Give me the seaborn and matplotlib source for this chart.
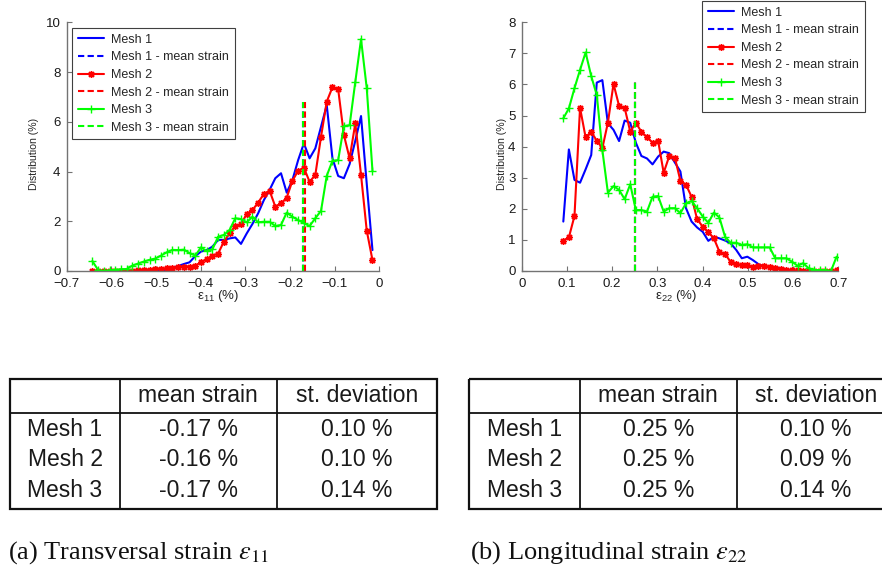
import numpy as np
import pandas as pd
import matplotlib
matplotlib.use("Agg")
import matplotlib.pyplot as plt
import seaborn as sns
from matplotlib.lines import Line2D
from matplotlib.patches import Rectangle

# ---------------- data ----------------
series_names = ["Mesh 1", "Mesh 2", "Mesh 3"]

# (a) transversal strain eps11 -- bin centres (%)
x11 = [-0.6425, -0.6297, -0.6169, -0.6041, -0.5913, -0.5785, -0.5657, -0.5529, -0.5401, -0.5273,
       -0.5145, -0.5017, -0.4889, -0.4761, -0.4633, -0.4505, -0.4377, -0.4249, -0.4121, -0.3993,
       -0.3865, -0.3737, -0.3609, -0.3481, -0.3353, -0.3225, -0.3097, -0.2969, -0.2841, -0.2713,
       -0.2585, -0.2457, -0.2329, -0.2201, -0.2073, -0.1945, -0.1817, -0.1689, -0.1561, -0.1433,
       -0.1305, -0.1177, -0.1049, -0.0921, -0.0793, -0.0665, -0.0537, -0.0409, -0.0281, -0.0153]
mesh1_e11 = [0, 0, 0, 0, 0, 0, 0, 0, 0, 0,
             0, 0, 0.01, 0.05, 0.12, 0.20, 0.28, 0.35, 0.60, 0.78,
             0.84, 0.98, 1.25, 1.25, 1.31, 1.35, 1.09, 1.51, 1.89, 2.32,
             2.85, 3.26, 3.73, 3.93, 3.15, 3.66, 4.46, 5.13, 4.53, 4.93,
             5.80, 6.67, 4.53, 3.82, 3.73, 4.30, 5.24, 6.23, 3.50, 0.84]
mesh2_e11 = [0, 0, 0, 0, 0, 0, 0, 0.02, 0.03, 0.05,
             0.05, 0.10, 0.08, 0.12, 0.14, 0.15, 0.18, 0.18, 0.22, 0.35,
             0.48, 0.62, 0.70, 1.18, 1.52, 1.80, 1.89, 2.29, 2.45, 2.75,
             3.10, 3.23, 2.59, 2.72, 2.95, 3.63, 4.03, 4.15, 3.59, 3.86,
             5.40, 6.81, 7.39, 7.31, 5.47, 4.53, 5.94, 3.86, 1.62, 0.44]
mesh3_e11 = [0.40, 0.04, 0.0, 0.03, 0.05, 0.07, 0.08, 0.22, 0.30, 0.38,
             0.45, 0.50, 0.62, 0.75, 0.85, 0.84, 0.86, 0.72, 0.62, 0.95,
             0.80, 0.87, 1.38, 1.45, 1.65, 2.12, 2.09, 1.96, 2.18, 1.96,
             1.98, 1.98, 1.81, 1.85, 2.35, 2.18, 2.05, 1.92, 1.81, 2.12,
             2.42, 3.83, 4.43, 4.46, 5.83, 5.86, 7.61, 9.32, 7.35, 4.03]
mean_e11 = [-0.170, -0.166, -0.170]
mean_line_top_e11 = 6.8

# (b) longitudinal strain eps22 -- bin centres (%)
x22 = [0.0920, 0.1043, 0.1167, 0.1290, 0.1413, 0.1537, 0.1660, 0.1783, 0.1906, 0.2030,
       0.2153, 0.2276, 0.2400, 0.2523, 0.2646, 0.2770, 0.2893, 0.3016, 0.3139, 0.3263,
       0.3386, 0.3509, 0.3633, 0.3756, 0.3879, 0.4003, 0.4126, 0.4249, 0.4372, 0.4496,
       0.4619, 0.4742, 0.4866, 0.4989, 0.5112, 0.5235, 0.5359, 0.5482, 0.5605, 0.5729,
       0.5852, 0.5975, 0.6099, 0.6222, 0.6345, 0.6468, 0.6592, 0.6715, 0.6838, 0.6962]
mesh1_e22 = [1.59, 3.91, 2.93, 2.84, 3.27, 3.73, 6.06, 6.14, 4.75, 4.54,
             4.18, 4.84, 4.77, 4.13, 3.70, 3.62, 3.43, 3.68, 3.84, 3.79,
             3.49, 3.20, 2.02, 1.59, 1.40, 1.26, 0.97, 1.10, 1.05, 0.98,
             0.89, 0.68, 0.41, 0.46, 0.35, 0.22, 0.14, 0.12, 0.12, 0.09,
             0.05, 0, 0, 0, 0, 0, 0, 0, 0, 0]
mesh2_e22 = [0.98, 1.08, 1.77, 5.25, 4.30, 4.48, 4.19, 3.95, 4.77, 6.02,
             5.31, 5.25, 4.48, 4.77, 4.48, 4.30, 4.13, 4.19, 3.16, 3.70,
             3.65, 2.90, 2.77, 2.39, 1.66, 1.43, 1.25, 1.05, 0.62, 0.54,
             0.30, 0.22, 0.20, 0.20, 0.12, 0.17, 0.17, 0.14, 0.09, 0.08,
             0.02, 0.02, 0.02, 0.01, 0.01, 0.01, 0.01, 0.01, 0.01, 0.02]
mesh3_e22 = [4.91, 5.23, 5.88, 6.47, 7.03, 6.27, 5.66, 3.89, 2.52, 2.73,
             2.61, 2.31, 2.79, 1.96, 1.96, 1.91, 2.39, 2.41, 1.91, 2.02,
             2.02, 1.86, 2.18, 2.25, 2.02, 1.75, 1.55, 1.88, 1.72, 1.10,
             0.91, 0.91, 0.84, 0.86, 0.76, 0.76, 0.76, 0.76, 0.41, 0.41,
             0.41, 0.30, 0.17, 0.25, 0.09, 0.03, 0.03, 0.03, 0.0, 0.46]
mean_e22 = [0.25, 0.25, 0.25]
mean_line_top_e22 = 6.15

# tables
table_header = ["", "mean strain", "st. deviation"]
table_rows = ["Mesh 1", "Mesh 2", "Mesh 3"]
mean_txt_11 = ["-0.17 %", "-0.16 %", "-0.17 %"]
std_txt_11 = ["0.10 %", "0.10 %", "0.14 %"]
mean_txt_22 = ["0.25 %", "0.25 %", "0.25 %"]
std_txt_22 = ["0.10 %", "0.09 %", "0.14 %"]

xticks_11 = [-0.7, -0.6, -0.5, -0.4, -0.3, -0.2, -0.1, 0]
yticks_11 = [0, 2, 4, 6, 8, 10]
xticks_22 = [0, 0.1, 0.2, 0.3, 0.4, 0.5, 0.6, 0.7]
yticks_22 = [0, 1, 2, 3, 4, 5, 6, 7, 8]

captions = ["(a) Transversal strain $\\varepsilon_{11}$", "(b) Longitudinal strain $\\varepsilon_{22}$"]

# ---------------- style ----------------
sns.set_theme(style="ticks")
plt.rcParams.update({
    "font.family": ["Liberation Sans", "DejaVu Sans"],
    "mathtext.fontset": "custom",
    "mathtext.rm": "Liberation Sans",
    "mathtext.it": "Liberation Sans:italic",
    "xtick.direction": "in",
    "ytick.direction": "in",
    "axes.edgecolor": "0.45",
    "xtick.color": "0.45",
    "ytick.color": "0.45",
    "xtick.labelcolor": "0.1",
    "ytick.labelcolor": "0.1",
    "axes.linewidth": 1.0,
    "axes.facecolor": "white",
    "figure.facecolor": "white",
})

colors = ["#0000ff", "#ff0000", "#00ff00"]
markers = [None, (8, 2, 0), "+"]
msizes = [0, 5, 6]
dash = (0, (3, 1.6))

W, H = 882, 573
fig = plt.figure(figsize=(W / 100, H / 100), dpi=100)


def px_axes(x0, y0, x1, y1):
    return fig.add_axes([x0 / W, 1 - y1 / H, (x1 - x0) / W, (y1 - y0) / H])


axL = px_axes(66.7, 22.3, 379.3, 271)
axR = px_axes(521.7, 22.3, 838.3, 271)


def draw(ax, x, ys, means, top):
    handles, labels = [], []
    for name, y, c, mk, ms, m in zip(series_names, ys, colors, markers, msizes, means):
        df = pd.DataFrame({"x": x, "y": y})
        kw = dict(lw=1.5)
        if mk is not None:
            kw.update(marker=mk, markersize=ms, markeredgewidth=1.0,
                      markeredgecolor=c, markerfacecolor=c)
        sns.lineplot(data=df, x="x", y="y", color=c, estimator=None, sort=False,
                     ax=ax, legend=False, **kw)
        handles.append(ax.lines[-1])
        labels.append(name)
        ax.vlines([m], 0, top, colors=c, linestyles=[dash], linewidth=1.5)
        handles.append(Line2D([], [], color=c, lw=1.5, ls=dash))
        labels.append(name + " - mean strain")
    return handles, labels


hL, lL = draw(axL, x11, [mesh1_e11, mesh2_e11, mesh3_e11], mean_e11, mean_line_top_e11)
hR, lR = draw(axR, x22, [mesh1_e22, mesh2_e22, mesh3_e22], mean_e22, mean_line_top_e22)

for ax, xt, yt, xl, lab, ylx, xlx in [
        (axL, xticks_11, yticks_11, (-0.7, 0), "ε$_{11}$ (%)", -0.089, 0.484),
        (axR, xticks_22, yticks_22, (0, 0.7), "ε$_{22}$ (%)", -0.046, 0.487)]:
    ax.set_xlim(*xl)
    ax.set_ylim(0, yt[-1])
    ax.set_xticks(xt)
    ax.set_yticks(yt)
    ax.set_xticklabels([("%g" % v).replace("-", "\u2212") for v in xt])
    ax.set_yticklabels(["%g" % v for v in yt])
    ax.tick_params(length=3.5, width=0.8, labelsize=9.5)
    ax.tick_params(axis="x", pad=5)
    ax.tick_params(axis="y", pad=4.5)
    ax.set_xlabel(lab, fontsize=9.5)
    ax.set_ylabel("Distribution (%)", fontsize=7.6)
    ax.yaxis.set_label_coords(ylx, 0.47)
    ax.xaxis.set_label_coords(xlx, -0.07)
    ax.xaxis.label.set_va("top")
    sns.despine(ax=ax)
    ax.grid(False)

legkw = dict(loc="upper left", fontsize=9.0, frameon=True, fancybox=False,
             borderaxespad=0, handlelength=2.1, handletextpad=0.6, labelspacing=0.45,
             borderpad=0.45, numpoints=1, bbox_transform=fig.transFigure)
legL = axL.legend(hL, lL, bbox_to_anchor=(72 / W, 1 - 28 / H), **legkw)
legR = axR.legend(hR, lR, bbox_to_anchor=(702 / W, 1 - 1 / H), **legkw)
for lg in (legL, legR):
    lg.get_frame().set_edgecolor("0.25")
    lg.get_frame().set_linewidth(0.8)
    lg.get_frame().set_alpha(1)

# ---------------- tables ----------------
tab = fig.add_axes([0, 0, 1, 1], zorder=-1)
tab.set_xlim(0, W)
tab.set_ylim(H, 0)
tab.axis("off")


def draw_table(x0, c1, c2, x3, means, stds):
    top, hdr, bot = 379.3, 412.7, 509.3
    tab.add_patch(Rectangle((x0, top), x3 - x0, bot - top, fill=False, ec="#111111", lw=1.6,
                            clip_on=False))
    tab.plot([x0, x3], [hdr, hdr], color="#111111", lw=1.3, clip_on=False)
    for cx in (c1, c2):
        tab.plot([cx, cx], [top, bot], color="#111111", lw=1.3, clip_on=False)
    centres = [(x0 + c1) / 2, (c1 + c2) / 2, (c2 + x3) / 2]
    tkw = dict(fontsize=16.5, ha="center", va="center", color="#1a1a1a")
    for cx, t in zip(centres, table_header):
        tab.text(cx, 396, t, **tkw)
    for ry, name, m, s in zip([429.3, 460.0, 490.7], table_rows, means, stds):
        tab.text(centres[0], ry, name, **tkw)
        tab.text(centres[1], ry, m, **tkw)
        tab.text(centres[2], ry, s, **tkw)


draw_table(10, 120, 276.7, 437, mean_txt_11, std_txt_11)
draw_table(469, 580, 736.7, 895, mean_txt_22, std_txt_22)

for xx, cap in zip([8, 470], captions):
    tab.text(xx, 553, cap, fontsize=19, ha="left", va="center", color="#111111",
             family=["Liberation Serif", "DejaVu Serif"], math_fontfamily="stix")

fig.savefig("out.png", dpi=100)
